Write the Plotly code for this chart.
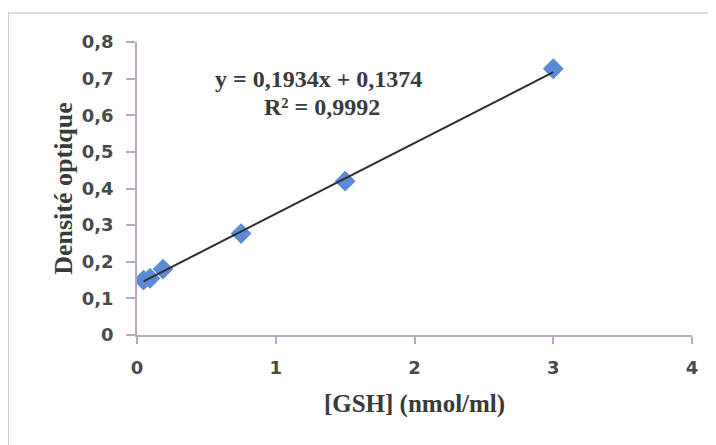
import plotly.graph_objects as go

gsh = [0.047, 0.094, 0.1875, 0.75, 1.5, 3.0]
do = [0.150, 0.155, 0.180, 0.277, 0.420, 0.727]
slope = 0.1934
intercept = 0.1374
eq_line1 = "y = 0,1934x + 0,1374"
eq_line2 = "R² = 0,9992"
y_ticks = [0, 0.1, 0.2, 0.3, 0.4, 0.5, 0.6, 0.7, 0.8]
y_tick_labels = ["0", "0,1", "0,2", "0,3", "0,4", "0,5", "0,6", "0,7", "0,8"]
x_ticks = [0, 1, 2, 3, 4]

fit_x = [min(gsh), max(gsh)]
fit_y = [slope * v + intercept for v in fit_x]

fig = go.Figure()
fig.add_trace(go.Scatter(x=gsh, y=do, mode="markers",
                         marker=dict(symbol="diamond", size=16, color="#5b8bd6",
                                     line=dict(width=0)),
                         showlegend=False))
fig.add_trace(go.Scatter(x=fit_x, y=fit_y, mode="lines",
                         line=dict(color="#2e2e2e", width=2),
                         showlegend=False))

axis_color = "#b9a7bd"
tick_font = dict(family="DejaVu Sans", size=18, color="#4a4a4a", weight="bold")
title_font = dict(family="Liberation Serif", size=25, color="#3a3a3a", weight="bold")
ytitle_font = dict(family="Liberation Serif", size=26, color="#3a3a3a", weight="bold")
eq_font = dict(family="Liberation Serif", size=24, color="#3a3a3a", weight="bold")
fig.update_layout(
    width=716, height=445,
    margin=dict(l=129, r=32, t=34, b=118),
    paper_bgcolor="white", plot_bgcolor="white",
    xaxis=dict(range=[0, 4], tickvals=x_ticks, showgrid=False, zeroline=False,
               automargin=False,
               showline=True, linecolor=axis_color, linewidth=1.5,
               ticks="outside", ticklen=7, tickcolor=axis_color, tickwidth=1.5,
               ticklabelstandoff=9,
               tickfont=tick_font,
               title=dict(text="[GSH] (nmol/ml)", standoff=17, font=title_font)),
    yaxis=dict(range=[0, 0.8], tickvals=y_ticks, ticktext=y_tick_labels, showgrid=False,
               zeroline=False, showline=True, linecolor=axis_color, linewidth=1.5,
               automargin=False,
               ticks="outside", ticklen=9, tickcolor=axis_color, tickwidth=1.5,
               ticklabelstandoff=9,
               tickfont=tick_font,
               title=dict(text="Densité optique", standoff=2, font=ytitle_font)),
    shapes=[dict(type="rect", xref="paper", yref="paper",
                 x0=-0.232, x1=1.2, y0=-0.6, y1=1.099,
                 line=dict(color="#cfcfcf", width=1.5), layer="below")],
    annotations=[
        dict(text=eq_line1, x=1.305, y=0.698, xref="x", yref="y",
             showarrow=False, yanchor="middle", font=eq_font),
        dict(text=eq_line2, x=1.334, y=0.622, xref="x", yref="y",
             showarrow=False, yanchor="middle", font=eq_font),
    ],
)

fig.write_html("out.html")
